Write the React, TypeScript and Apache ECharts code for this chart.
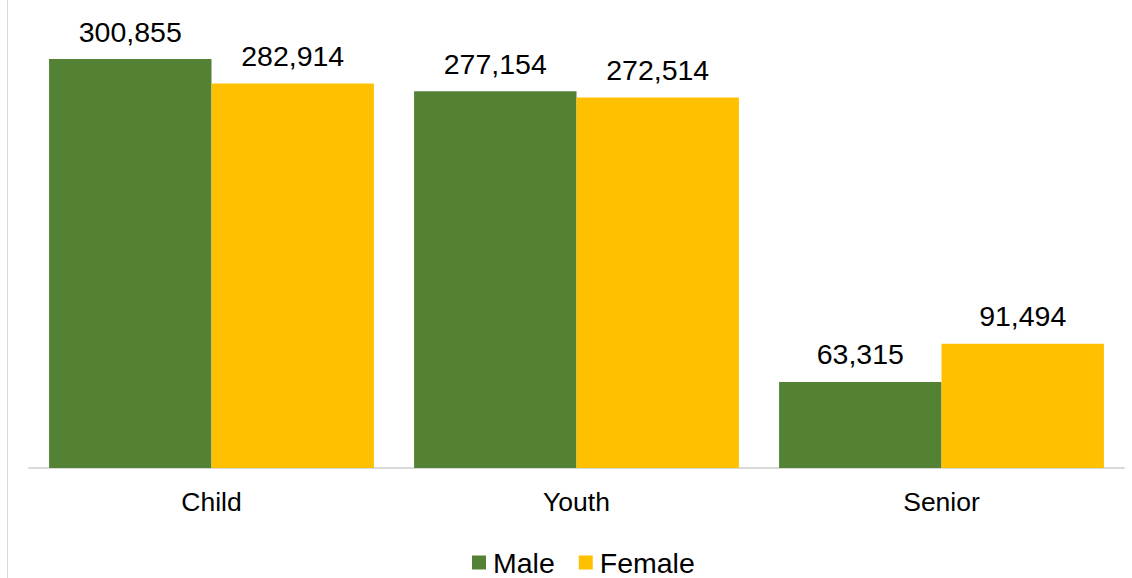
import React, { useEffect, useRef } from "react";
import * as echarts from "echarts";

const categories = ["Child", "Youth", "Senior"];
const maleValues = [300855, 277154, 63315];
const femaleValues = [282914, 272514, 91494];
const seriesNames = ["Male", "Female"];

export default function App() {
  const ref = useRef<HTMLDivElement>(null);
  useEffect(() => {
    if (!ref.current) return;
    const chart = echarts.init(ref.current, null, { renderer: "svg" });
    const font = "Liberation Sans, Arial, sans-serif";
    const label = {
      show: true,
      position: "top" as const,
      distance: 13,
      color: "#000000",
      fontSize: 28.5,
      fontFamily: font,
      formatter: (p: any) => Number(p.value).toLocaleString("en-US"),
    };
    chart.setOption({
      animation: false,
      backgroundColor: "#ffffff",
      grid: { left: 29, right: 8, top: 33, bottom: 110, containLabel: false },
      legend: {
        data: seriesNames,
        bottom: -4,
        left: 467,
        itemWidth: 14,
        itemHeight: 14,
        itemGap: 24,
        icon: "rect",
        textStyle: { fontSize: 28.5, fontFamily: font, color: "#000000", padding: [0, 0, 0, 2] },
      },
      xAxis: {
        type: "category",
        data: categories,
        axisLine: { show: true, lineStyle: { color: "#d9d9d9", width: 2 } },
        axisTick: { show: false },
        axisLabel: { fontSize: 26.5, fontFamily: font, color: "#000000", margin: 20 },
      },
      yAxis: {
        type: "value",
        min: 0,
        max: 320000,
        show: false,
        splitLine: { show: false },
      },
      graphic: [
        {
          type: "line",
          shape: { x1: 7.5, y1: 0, x2: 7.5, y2: 578 },
          style: { stroke: "#d9d9d9", lineWidth: 1 },
        },
      ],
      series: [
        {
          name: seriesNames[0],
          type: "bar",
          data: maleValues,
          itemStyle: { color: "#548235" },
          barGap: "0%",
          barCategoryGap: "11%",
          label,
        },
        {
          name: seriesNames[1],
          type: "bar",
          data: femaleValues,
          itemStyle: { color: "#FFC000" },
          barGap: "0%",
          barCategoryGap: "11%",
          label,
        },
      ],
    });
    return () => chart.dispose();
  }, []);
  return (
    <div
      ref={ref}
      style={{ position: "fixed", left: 0, top: 0, width: 1132, height: 578 }}
    />
  );
}
